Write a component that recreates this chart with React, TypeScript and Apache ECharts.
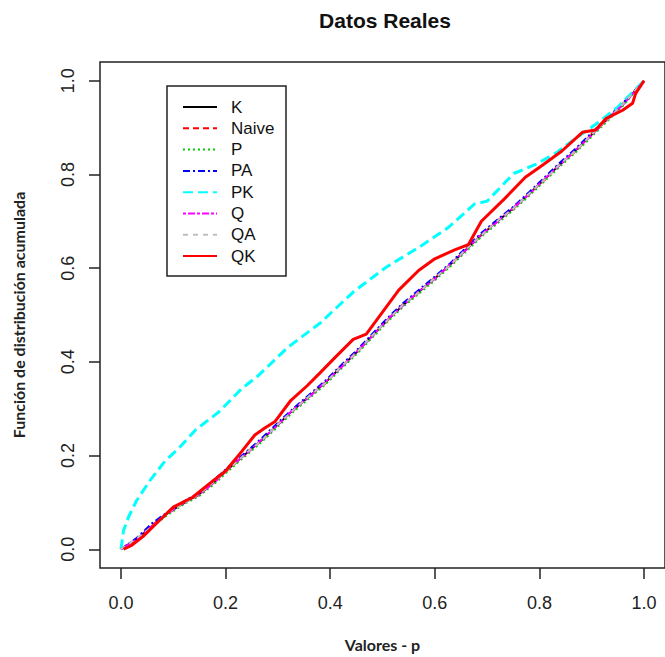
import React, { useEffect, useRef } from "react";
import * as echarts from "echarts";

const titleText = "Datos Reales";
const xName = "Valores - p";
const yName = "Función de distribución acumulada";
const tickValues = [0, 0.2, 0.4, 0.6, 0.8, 1.0];

const seriesNames = ["K", "Naive", "P", "PA", "PK", "Q", "QA", "QK"];

// common x grid for the six curves near the diagonal
const groupX = [0, 0.03, 0.06, 0.09, 0.12, 0.15, 0.18, 0.21, 0.24, 0.27, 0.3, 0.33, 0.36, 0.39, 0.42, 0.45, 0.48, 0.51, 0.54, 0.57, 0.6, 0.63, 0.66, 0.69, 0.72, 0.75, 0.78, 0.81, 0.84, 0.87, 0.9, 0.93, 0.96, 1.0];
const kY = [0, 0.022, 0.05, 0.078, 0.098, 0.118, 0.145, 0.176, 0.205, 0.234, 0.266, 0.298, 0.326, 0.355, 0.388, 0.42, 0.455, 0.49, 0.522, 0.55, 0.578, 0.608, 0.64, 0.672, 0.7, 0.728, 0.758, 0.79, 0.822, 0.852, 0.885, 0.918, 0.95, 1.0];
const naiveY = [0, 0.02, 0.052, 0.076, 0.1, 0.116, 0.147, 0.174, 0.207, 0.232, 0.268, 0.296, 0.328, 0.353, 0.39, 0.418, 0.457, 0.488, 0.524, 0.548, 0.58, 0.606, 0.642, 0.67, 0.702, 0.726, 0.76, 0.788, 0.824, 0.85, 0.887, 0.916, 0.952, 1.0];
const pY = [0, 0.018, 0.048, 0.074, 0.096, 0.114, 0.141, 0.172, 0.201, 0.23, 0.262, 0.294, 0.322, 0.351, 0.384, 0.416, 0.451, 0.486, 0.518, 0.546, 0.574, 0.604, 0.636, 0.668, 0.696, 0.724, 0.754, 0.786, 0.818, 0.848, 0.881, 0.914, 0.947, 1.0];
const paY = [0, 0.024, 0.056, 0.08, 0.102, 0.121, 0.15, 0.18, 0.208, 0.238, 0.27, 0.301, 0.33, 0.359, 0.392, 0.424, 0.459, 0.494, 0.526, 0.554, 0.582, 0.611, 0.644, 0.676, 0.704, 0.731, 0.762, 0.794, 0.826, 0.856, 0.889, 0.921, 0.953, 1.0];
const qY = [0, 0.021, 0.05, 0.077, 0.099, 0.117, 0.144, 0.177, 0.204, 0.235, 0.265, 0.299, 0.325, 0.356, 0.387, 0.421, 0.454, 0.491, 0.521, 0.551, 0.577, 0.609, 0.639, 0.673, 0.699, 0.729, 0.757, 0.791, 0.821, 0.853, 0.884, 0.919, 0.949, 1.0];
const qaY = [0, 0.023, 0.049, 0.079, 0.097, 0.119, 0.146, 0.175, 0.206, 0.233, 0.267, 0.297, 0.327, 0.354, 0.389, 0.419, 0.456, 0.489, 0.523, 0.549, 0.579, 0.607, 0.641, 0.671, 0.701, 0.727, 0.759, 0.789, 0.823, 0.851, 0.886, 0.917, 0.951, 1.0];

// PK (cyan)
const pkX = [0, 0.005, 0.015, 0.03, 0.055, 0.084, 0.112, 0.143, 0.187, 0.231, 0.262, 0.318, 0.381, 0.444, 0.507, 0.569, 0.625, 0.676, 0.7, 0.751, 0.794, 0.832, 0.852, 0.916, 0.949, 1.0];
const pkY = [0, 0.04, 0.07, 0.104, 0.146, 0.188, 0.217, 0.255, 0.293, 0.343, 0.37, 0.43, 0.483, 0.549, 0.602, 0.644, 0.686, 0.737, 0.743, 0.802, 0.822, 0.846, 0.863, 0.914, 0.943, 1.0];

// QK (red)
const qkX = [0.005, 0.02, 0.042, 0.074, 0.1, 0.137, 0.168, 0.2, 0.231, 0.256, 0.275, 0.294, 0.325, 0.356, 0.381, 0.41, 0.444, 0.469, 0.494, 0.531, 0.569, 0.6, 0.638, 0.664, 0.689, 0.734, 0.773, 0.805, 0.843, 0.882, 0.907, 0.927, 0.959, 0.978, 0.984, 1.0];
const qkY = [0, 0.008, 0.027, 0.062, 0.09, 0.111, 0.139, 0.167, 0.209, 0.244, 0.259, 0.272, 0.318, 0.349, 0.377, 0.41, 0.448, 0.459, 0.497, 0.553, 0.595, 0.62, 0.639, 0.65, 0.7, 0.749, 0.794, 0.819, 0.85, 0.89, 0.895, 0.919, 0.937, 0.952, 0.973, 1.0];

const colors = ["#000000", "#FF0000", "#00CD00", "#0000FF", "#00FFFF", "#FF00FF", "#BEBEBE", "#FF0000"];
const dashes: (number[] | null)[] = [null, [6, 4], [2, 3], [7, 3, 2, 3], [10, 5], [3, 2, 7, 2], [5, 5], null];
const widths = [2, 2, 2, 2, 3, 2, 2, 3];

const zip = (xs: number[], ys: number[]) => xs.map((x, i) => [x, ys[i]]);

export default function App() {
  const ref = useRef<HTMLDivElement>(null);
  useEffect(() => {
    if (!ref.current) return;
    const chart = echarts.init(ref.current, null, { renderer: "svg" });
    const datasets = [
      zip(groupX, kY),
      zip(groupX, naiveY),
      zip(groupX, pY),
      zip(groupX, paY),
      zip(pkX, pkY),
      zip(groupX, qY),
      zip(groupX, qaY),
      zip(qkX, qkY),
    ];
    const font = "'Liberation Sans', Arial, sans-serif";
    const legendX = 167, legendY = 86, legendW = 119, legendH = 190;
    const rowY0 = 107, rowGap = 21.3;
    const legendEls: any[] = [
      {
        type: "rect",
        shape: { x: legendX, y: legendY, width: legendW, height: legendH },
        style: { fill: "#fff", stroke: "#222", lineWidth: 1.5 },
        z: 100,
      },
    ];
    seriesNames.forEach((n, i) => {
      const y = rowY0 + i * rowGap;
      legendEls.push({
        type: "line",
        shape: { x1: 183, y1: y, x2: 217, y2: y },
        style: { stroke: colors[i], lineWidth: 2, lineDash: dashes[i] || undefined },
        z: 101,
      });
      legendEls.push({
        type: "text",
        x: 231,
        y: y,
        style: { text: n, font: `17px ${font}`, fill: "#111", verticalAlign: "middle", align: "left" },
        z: 101,
      });
    });

    chart.setOption({
      animation: false,
      backgroundColor: "#fff",
      title: {
        text: titleText,
        left: 380,
        top: 5,
        textAlign: "center",
        textStyle: { fontFamily: font, fontWeight: "bold", fontSize: 21, color: "#111" },
      },
      grid: {
        left: 100,
        top: 62,
        right: -9,
        bottom: 84,
        show: true,
        borderColor: "#222",
        borderWidth: 1.5,
        backgroundColor: "transparent",
      },
      xAxis: {
        type: "value",
        min: -0.04,
        max: 1.04,
        name: xName,
        nameLocation: "middle",
        nameGap: 68,
        nameTextStyle: { fontFamily: "Lato", fontWeight: "bold", fontSize: 16, color: "#222" },
        splitLine: { show: false },
        axisLine: { show: false, onZero: false },
        axisTick: { show: true, length: 11, customValues: tickValues, lineStyle: { color: "#222", width: 1.5 } },
        axisLabel: {
          customValues: tickValues,
          margin: 26,
          fontSize: 18,
          fontFamily: font,
          color: "#222",
          formatter: (v: number) => v.toFixed(1),
        },
      },
      yAxis: {
        type: "value",
        min: -0.04,
        max: 1.04,
        name: yName,
        nameLocation: "middle",
        nameGap: 74,
        nameTextStyle: { fontFamily: "Lato", fontWeight: "bold", fontSize: 16, color: "#222" },
        splitLine: { show: false },
        axisLine: { show: false, onZero: false },
        axisTick: { show: true, length: 11, customValues: tickValues, lineStyle: { color: "#222", width: 1.5 } },
        axisLabel: {
          customValues: tickValues,
          rotate: 90,
          margin: 23,
          fontSize: 18,
          fontFamily: font,
          color: "#222",
          formatter: (v: number) => v.toFixed(1),
        },
      },
      series: seriesNames.map((n, i) => ({
        name: n,
        type: "line",
        data: datasets[i],
        showSymbol: false,
        symbol: "none",
        silent: true,
        lineStyle: { color: colors[i], width: widths[i], type: dashes[i] || "solid" },
        z: 2 + i,
      })),
      graphic: legendEls,
    });
    return () => chart.dispose();
  }, []);
  return <div ref={ref} style={{ position: "fixed", left: 0, top: 0, width: 665, height: 657 }} />;
}
